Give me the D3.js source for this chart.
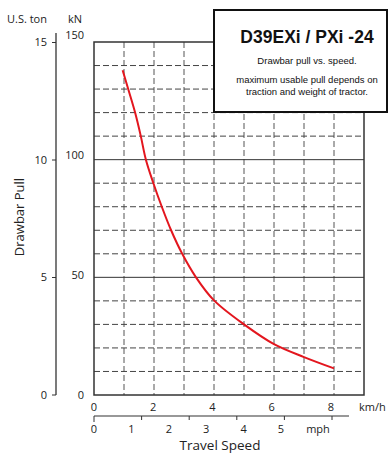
<!DOCTYPE html>
<html><head><meta charset="utf-8">
<script src="https://cdn.jsdelivr.net/npm/d3@7"></script>
<style>body{margin:0;background:#fff;} svg{display:block;}</style>
</head><body>
<svg id="c" width="389" height="453"></svg>
<script>
// Data
const speedKmh = [0.955, 1.14, 1.37, 1.56, 1.73, 1.98, 2.26, 2.57, 2.94, 3.4, 4.0, 5.0, 6.0, 7.0, 8.0];
const pullKN   = [138, 130, 120, 110, 100, 90, 80, 70, 60, 50, 40.2, 30, 21.6, 16.1, 11.3];
const kmhTicks = [0, 2, 4, 6, 8];
const mphTicks = [0, 1, 2, 3, 4, 5];
const kNTicks = [0, 50, 100, 150];
const tonTicks = [0, 5, 10, 15];
const titleText = "D39EXi / PXi -24";
const noteLines = ["Drawbar pull vs. speed.", "maximum usable pull depends on", "traction and weight of tractor."];

const svg = d3.select("#c");
const sans = "'Open Sans', 'Noto Sans', sans-serif";
const arial = "'Liberation Sans', Arial, sans-serif";

const x = d3.scaleLinear().domain([0, 9]).range([94, 364]);
const y = d3.scaleLinear().domain([0, 150]).range([395, 42]);
const yLab = d3.scaleLinear().domain([0, 150]).range([395, 35]);
const ton = d3.scaleLinear().domain([0, 15]).range([395, 42.5]);
const xLab = d3.scaleLinear().domain([0, 8]).range([94, 331]);
const mphTick = d3.scaleLinear().domain([0, 5]).range([94, 332]);
const mphLab = d3.scaleLinear().domain([0, 5]).range([94, 281]);

const grid = svg.append("g");
// vertical dashed grid
grid.selectAll("line.v").data(d3.range(1, 9)).join("line")
  .attr("x1", d => x(d)).attr("x2", d => x(d))
  .attr("y1", y(150)).attr("y2", y(0))
  .attr("stroke", "#555").attr("stroke-width", 1).attr("stroke-dasharray", "6,3");
// horizontal grid
grid.selectAll("line.h").data(d3.range(10, 150, 10)).join("line")
  .attr("x1", x(0)).attr("x2", x(9))
  .attr("y1", d => y(d)).attr("y2", d => y(d))
  .attr("stroke", d => d % 50 === 0 ? "#333" : "#444")
  .attr("stroke-width", 1)
  .attr("stroke-dasharray", d => d % 50 === 0 ? null : "6,3");
// frame
svg.append("rect").attr("x", x(0)).attr("y", y(150))
  .attr("width", x(9) - x(0)).attr("height", y(0) - y(150))
  .attr("fill", "none").attr("stroke", "#333").attr("stroke-width", 1.5);

// curve
const line = d3.line().x((d, i) => x(speedKmh[i])).y(d => y(d)).curve(d3.curveCatmullRom.alpha(0.5));
svg.append("path").attr("d", line(pullKN))
  .attr("fill", "none").attr("stroke", "#e3161e").attr("stroke-width", 2);

// kN labels
svg.selectAll("text.kn").data(kNTicks).join("text")
  .attr("x", 84).attr("y", d => yLab(d)).attr("dy", "0.35em")
  .attr("text-anchor", "end").attr("font-family", sans).attr("font-size", 11).attr("fill", "#222")
  .text(d => d);

// ton axis
svg.append("line").attr("x1", 56).attr("x2", 56).attr("y1", 33).attr("y2", ton(0))
  .attr("stroke", "#333").attr("stroke-width", 1.3);
svg.selectAll("line.tt").data(tonTicks).join("line")
  .attr("x1", 52).attr("x2", 56).attr("y1", d => ton(d)).attr("y2", d => ton(d))
  .attr("stroke", "#333").attr("stroke-width", 1);
svg.selectAll("text.ton").data(tonTicks).join("text")
  .attr("x", 47).attr("y", d => ton(d)).attr("dy", "0.35em")
  .attr("text-anchor", "end").attr("font-family", sans).attr("font-size", 11).attr("fill", "#222")
  .text(d => d);

svg.append("text").attr("x", 7).attr("y", 23).attr("font-family", sans).attr("font-size", 11).attr("fill", "#222").text("U.S. ton");
svg.append("text").attr("x", 68).attr("y", 23).attr("font-family", sans).attr("font-size", 11).attr("fill", "#222").text("kN");
svg.append("text").attr("transform", "translate(24,217) rotate(-90)").attr("text-anchor", "middle")
  .attr("font-family", sans).attr("font-size", 13).attr("fill", "#222").text("Drawbar Pull");

// km/h labels
svg.selectAll("text.kmh").data(kmhTicks).join("text")
  .attr("x", d => xLab(d)).attr("y", 411).attr("text-anchor", "middle")
  .attr("font-family", sans).attr("font-size", 11).attr("fill", "#222").text(d => d);
svg.append("text").attr("x", 359).attr("y", 411).attr("font-family", sans).attr("font-size", 11).attr("fill", "#222").text("km/h");

// mph axis
svg.append("line").attr("x1", mphTick(0)).attr("x2", 349).attr("y1", 416).attr("y2", 416)
  .attr("stroke", "#333").attr("stroke-width", 1.2);
svg.selectAll("line.mt").data(mphTicks).join("line")
  .attr("x1", d => mphTick(d)).attr("x2", d => mphTick(d))
  .attr("y1", 416).attr("y2", d => d === 0 ? 422 : 420)
  .attr("stroke", "#333").attr("stroke-width", 1);
svg.selectAll("text.mph").data(mphTicks).join("text")
  .attr("x", d => mphLab(d)).attr("y", 433).attr("text-anchor", "middle")
  .attr("font-family", sans).attr("font-size", 11).attr("fill", "#222").text(d => d);
svg.append("text").attr("x", 318).attr("y", 433).attr("text-anchor", "middle")
  .attr("font-family", sans).attr("font-size", 11).attr("fill", "#222").text("mph");
svg.append("text").attr("x", 220).attr("y", 450).attr("text-anchor", "middle")
  .attr("font-family", sans).attr("font-size", 13.5).attr("fill", "#222").text("Travel Speed");

// title box
svg.append("rect").attr("x", 214).attr("y", 10).attr("width", 173).attr("height", 102)
  .attr("fill", "#fff").attr("stroke", "#111").attr("stroke-width", 2);
svg.append("text").attr("x", 307).attr("y", 43).attr("text-anchor", "middle")
  .attr("font-family", arial).attr("font-weight", "bold").attr("font-size", 17.5).attr("fill", "#111").text(titleText);
svg.selectAll("text.note").data(noteLines).join("text")
  .attr("x", 307).attr("y", (d, i) => [64, 83, 95][i]).attr("text-anchor", "middle")
  .attr("font-family", arial).attr("font-size", 9.5).attr("fill", "#111").text(d => d);
</script>
</body></html>
